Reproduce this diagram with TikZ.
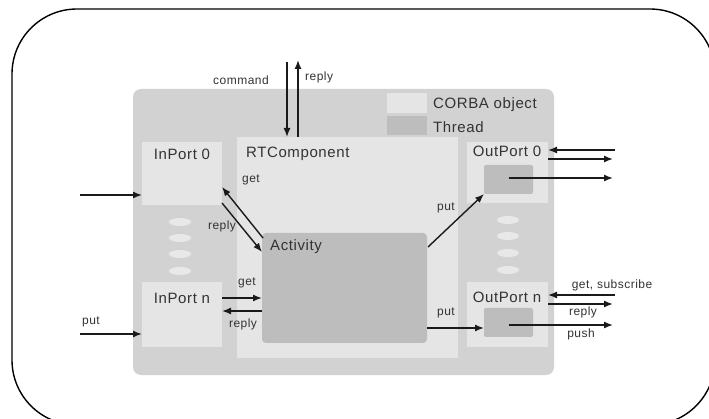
\documentclass[tikz,border=0pt]{standalone}
\usepackage{fontspec}
\setmainfont{Liberation Sans}[LetterSpace=4]
\usetikzlibrary{arrows.meta,shapes.geometric,calc}
\definecolor{bggray}{HTML}{D2D2D2}
\definecolor{corba}{HTML}{E5E5E5}
\definecolor{thread}{HTML}{BDBDBD}
\definecolor{ell}{HTML}{E8E8E8}
\definecolor{txt}{HTML}{333333}
\definecolor{arr}{HTML}{1A1A1A}
\tikzset{
  box/.style={draw=none, inner sep=0pt, outer sep=0pt},
  corbabox/.style={box, fill=corba},
  threadbox/.style={box, fill=thread, rounded corners=2pt},
  bigtxt/.style={text=txt, inner sep=0pt, font=\fontsize{15}{17}\selectfont},
  smalltxt/.style={text=txt, inner sep=0pt, font=\fontsize{12}{14}\selectfont},
  conn/.style={draw=arr, line width=1.4pt, -{Latex[length=9pt,width=7pt]}},
  dot/.style={ellipse, fill=ell, minimum width=22pt, minimum height=8pt, inner sep=0pt}
}
\begin{document}
\begin{tikzpicture}[x=1pt,y=-1pt]
\useasboundingbox (0,0) rectangle (709,419);
\begin{scope}
\clip (0,0) rectangle (709,419);
\draw[line width=1.4pt, rounded corners=65pt] (12,9) rectangle (715,425);
\end{scope}
% background
\node[box, fill=bggray, rounded corners=8pt, minimum width=421pt, minimum height=286pt] (bg) at (343.5,232) {};
\node[corbabox, minimum width=221pt, minimum height=221pt] (rtc) at (347.5,247.5) {};
\node[corbabox, minimum width=40pt, minimum height=20pt] (leg1) at (407,103) {};
\node[box, fill=thread, minimum width=40pt, minimum height=19pt] (leg2) at (407,125.5) {};
\node[bigtxt, anchor=west] (leg1t) at (433,105) {CORBA object};
\node[bigtxt, anchor=west] (leg2t) at (433,127) {Thread};
% ports
\node[corbabox, minimum width=80pt, minimum height=63pt] (in0) at (182,173.5) {};
\node[corbabox, minimum width=80pt, minimum height=65pt] (inn) at (182,314.5) {};
\node[corbabox, minimum width=81pt, minimum height=61pt] (out0) at (507.5,172.5) {};
\node[corbabox, minimum width=81pt, minimum height=65pt] (outn) at (507.5,314.5) {};
\node[threadbox, minimum width=49pt, minimum height=29pt] (out0t) at (508.5,179.5) {};
\node[threadbox, minimum width=49pt, minimum height=29pt] (outnt) at (508.5,322.5) {};
\node[threadbox, rounded corners=4pt, minimum width=165pt, minimum height=110pt] (act) at (344.5,288) {};
% ellipses
\foreach \y [count=\i] in {222,238,254,271} {
  \node[dot] (le\i) at (180,\y) {};
}
\foreach \y [count=\i] in {220,236,253,270} {
  \node[dot] (re\i) at (508,\y) {};
}
% texts
\node[bigtxt, anchor=west] (rtct) at (246,154) {RTComponent};
\node[bigtxt] (in0t) at (182,154) {InPort 0};
\node[bigtxt] (innt) at (182,298) {InPort n};
\node[bigtxt] (out0t2) at (507,151) {OutPort 0};
\node[bigtxt] (outnt2) at (507,297) {OutPort n};
\node[bigtxt, anchor=west] (actt) at (270,247) {Activity};
% free ends
\coordinate (cmdtop) at (287,62);
\coordinate (reptop) at (298,60);
\coordinate (in0src) at (80,195);
\coordinate (innsrc) at (80,334);
\coordinate (o0a) at (615,150);
\coordinate (o0b) at (613,159);
\coordinate (o0c) at (613,178);
\coordinate (ona) at (615,295);
\coordinate (onb) at (613,304);
\coordinate (onc) at (613,325);
% connectors
\draw[conn] (cmdtop) -- (cmdtop |- rtc.north);
\draw[conn] (reptop |- rtc.north) -- (reptop);
\node[smalltxt] (lcmd) at (241,80) {command};
\node[smalltxt, anchor=west] (lrep) at (305,77) {reply};
\draw[conn] (in0src) -- (in0src -| in0.west);
\draw[conn] (innsrc) -- (innsrc -| inn.west);
\node[smalltxt] (lput1) at (91,322) {put};
\draw[conn] ($(act.north west)+(1,5)$) -- ($(in0.south east)+(0,-18)$);
\draw[conn] ($(in0.south east)+(0,-2)$) -- ($(act.north west)+(0,19)$);
\node[smalltxt] (lget1) at (251,180) {get};
\node[smalltxt] (lrep1) at (222,226) {reply};
\draw[conn] (inn.east |- 0,298) -- (act.west |- 0,298);
\draw[conn] (act.west |- 0,311) -- (inn.east |- 0,311);
\node[smalltxt] (lget2) at (247,283) {get};
\node[smalltxt] (lrep2) at (243,324) {reply};
\draw[conn] ($(act.north east)+(1,14)$) -- (out0t.south west);
\node[smalltxt] (lput2) at (446,208) {put};
\draw[conn] (act.east |- 0,328) -- (outnt.west |- 0,328);
\node[smalltxt] (lput3) at (446,313) {put};
\draw[conn] (o0a) -- (o0a -| out0.east);
\draw[conn] (o0b -| out0.east) -- (o0b);
\draw[conn] (o0c -| out0t.center) -- (o0c);
\draw[conn] (ona) -- (ona -| outn.east);
\draw[conn] (onb -| outn.east) -- (onb);
\draw[conn] (onc -| outnt.center) -- (onc);
\node[smalltxt] (lgs) at (612,285) {get, subscribe};
\node[smalltxt] (lrep3) at (583,312) {reply};
\node[smalltxt] (lpush) at (581,334) {push};
\end{tikzpicture}
\end{document}
